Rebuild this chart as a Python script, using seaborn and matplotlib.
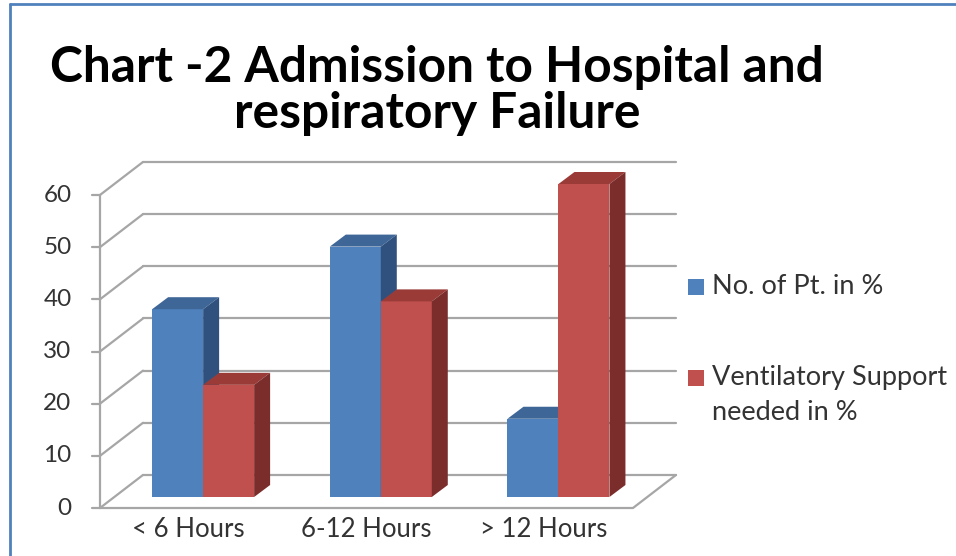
import numpy as np
import pandas as pd
import matplotlib
matplotlib.use('Agg')
import matplotlib.pyplot as plt
from matplotlib.patches import Polygon, Rectangle
from matplotlib.lines import Line2D
import seaborn as sns

# ---------------- data ----------------
categories = ['< 6 Hours', '6-12 Hours', '> 12 Hours']
series = ['No. of Pt. in %', 'Ventilatory Support\nneeded in %']
pt_pct = [36, 48, 15]
vent_pct = [21.5, 37.5, 60]
yticks = [0, 10, 20, 30, 40, 50, 60]

front_cols = ['#4F81BD', '#C0504D']
top_cols = ['#3E6697', '#9B3B38']
side_cols = ['#30517E', '#7A2D2B']
grid_col = '#A6A6A6'
txt_col = '#333333'

df = pd.DataFrame({
    'cat': categories * 2,
    'series': [series[0]] * 3 + [series[1]] * 3,
    'val': pt_pct + vent_pct,
})

sns.set_theme(style='white')
plt.rcParams['font.family'] = ['Lato', 'DejaVu Sans']

W, H = 956, 556
fig = plt.figure(figsize=(W / 100, H / 100), dpi=100)
# axes = the plane in which the bar fronts sit
ax = fig.add_axes([114.3 / W, (H - 497) / H, 533 / W, 313 / H])

sns.barplot(data=df, x='cat', y='val', hue='series', order=categories,
            hue_order=series, palette=front_cols, saturation=1, width=0.574,
            edgecolor='none', linewidth=0, legend=False, ax=ax)
ax.set_xlim(-0.5, 2.5)
ax.set_ylim(0, 60)
ax.axis('off')

# depth offsets (category units, value units)
dx, dy = 0.242, 6.33          # full floor depth
fx, fy = -dx / 3, -dy / 3     # front plane relative to bar plane
bx, by = dx * 2 / 3, dy * 2 / 3  # back wall relative to bar plane
ddx, ddy = 0.090, 2.3         # bar depth

# walls and floor
kw = dict(color=grid_col, lw=1.6, clip_on=False, zorder=1)
for v in yticks:
    ax.plot([-0.5 + bx, 2.5 + bx], [v + by, v + by], **kw)
    ax.plot([-0.5 + fx, -0.5 + bx], [v + fy, v + by], **kw)
    ax.plot([-0.5 + fx - 0.045, -0.5 + fx], [v + fy, v + fy], **kw)
    ax.text(-0.5 + fx - 0.16, v + fy, str(v), ha='right', va='center',
            fontsize=17.5, color=txt_col)
ax.plot([-0.5 + fx, -0.5 + fx], [fy, 60 + fy], **kw)
ax.plot([-0.5 + fx, 2.5 + fx, 2.5 + bx], [fy, fy, by], **kw)

for i, c in enumerate(categories):
    ax.text(i + fx, fy - 4.2, c, ha='center', va='center',
            fontsize=18.5, color=txt_col)

# 3D faces on the seaborn bars
for h, cont in enumerate(ax.containers):
    for bar in cont:
        x0, w, hgt = bar.get_x(), bar.get_width(), bar.get_height()
        z = 3 + h
        bar.set_zorder(z)
        top = Polygon([(x0, hgt), (x0 + ddx, hgt + ddy),
                       (x0 + w + ddx, hgt + ddy), (x0 + w, hgt)],
                      closed=True, fc=top_cols[h], ec='none', zorder=z,
                      clip_on=False)
        side = Polygon([(x0 + w, 0), (x0 + w + ddx, ddy),
                        (x0 + w + ddx, hgt + ddy), (x0 + w, hgt)],
                       closed=True, fc=side_cols[h], ec='none', zorder=z,
                       clip_on=False)
        ax.add_patch(top)
        ax.add_patch(side)

# title
fig.text(437 / W, 1 - 82 / H, 'Chart -2 Admission to Hospital and',
         ha='center', va='baseline', fontsize=35.7, weight='bold', color='black')
fig.text(437 / W, 1 - 128 / H, 'respiratory Failure',
         ha='center', va='baseline', fontsize=35.7, weight='bold', color='black')

# legend
leg_y = [287, 378]
for k, s in enumerate(series):
    fig.add_artist(Rectangle((688 / W, 1 - (leg_y[k] + 8) / H), 16 / W, 16 / H,
                             transform=fig.transFigure, fc=front_cols[k], ec='none'))
    fig.text(712 / W, 1 - leg_y[k] / H, s.split('\n')[0], ha='left',
             va='center', fontsize=19.5, color=txt_col)
    if '\n' in s:
        fig.text(712 / W, 1 - (leg_y[k] + 35) / H, s.split('\n')[1],
                 ha='left', va='center', fontsize=19.5, color=txt_col)

# chart border
fig.add_artist(Line2D([9.5 / W, 9.5 / W], [0, 1 - 4 / H], color='#4F81BD',
                      lw=2, transform=fig.transFigure))
fig.add_artist(Line2D([9.5 / W, 1], [1 - 4 / H, 1 - 4 / H], color='#4F81BD',
                      lw=2, transform=fig.transFigure))

fig.savefig('out.png', dpi=100)
